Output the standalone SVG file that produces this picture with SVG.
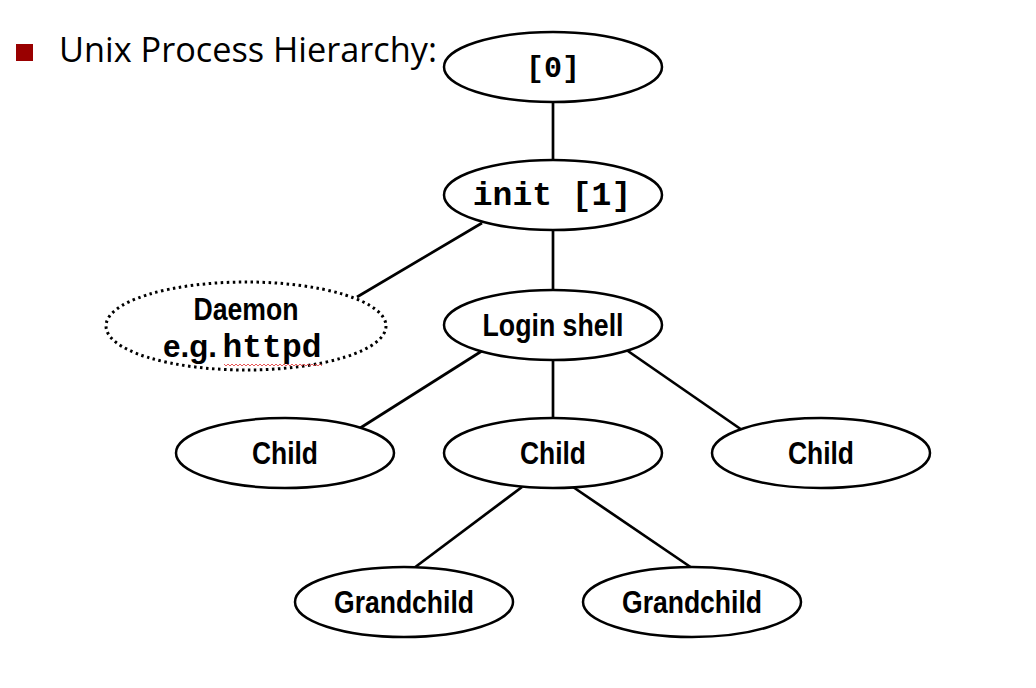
<svg xmlns="http://www.w3.org/2000/svg" width="1036" height="688" viewBox="0 0 1036 688">
<style>
.n{fill:#fff;stroke:#000;stroke-width:2.5}
.d{fill:#fff;stroke:#000;stroke-width:3;stroke-dasharray:2.5 3.5}
.l{font-family:"Liberation Sans Narrow","Arial Narrow","Liberation Sans",sans-serif;font-weight:bold;font-size:32px;text-anchor:middle;fill:#000}
.m{font-family:"Liberation Mono","Courier New",monospace;font-weight:bold;font-size:30px;text-anchor:middle;fill:#000}
.c line{stroke:#000;stroke-width:2.7}
</style>
<rect width="1036" height="688" fill="#fff"/>
<rect x="16" y="44" width="17" height="17" fill="#990000"/>
<text x="59" y="62" font-family="'Open Sans','Noto Sans',sans-serif" font-size="34" textLength="378" lengthAdjust="spacingAndGlyphs" fill="#000">Unix Process Hierarchy:</text>
<g class="c" id="connectors">
<line x1="553" y1="102" x2="553" y2="160"/>
<line x1="482" y1="223" x2="357" y2="297"/>
<line x1="553" y1="230" x2="553" y2="290"/>
<line x1="485" y1="349" x2="357" y2="430"/>
<line x1="553" y1="360" x2="553" y2="418"/>
<line x1="625" y1="349" x2="742" y2="430"/>
<line x1="522" y1="487" x2="414" y2="568"/>
<line x1="573" y1="487" x2="692" y2="568"/>
</g>
<g id="n0"><ellipse class="n" cx="553" cy="67" rx="109" ry="35"/><text class="m" x="553" y="77">[0]</text></g>
<g id="init"><ellipse class="n" cx="553" cy="195" rx="109" ry="35"/><text class="m" x="552" y="205" style="font-size:33px">init [1]</text></g>
<g id="daemon"><ellipse class="d" cx="246" cy="326" rx="140" ry="44"/>
<text class="l" x="246" y="320" textLength="105" lengthAdjust="spacingAndGlyphs">Daemon</text>
<text class="l" x="190" y="357" textLength="54" lengthAdjust="spacingAndGlyphs">e.g.</text>
<text class="m" x="272" y="357" style="font-size:33px">httpd</text>
<polyline points="224,364 226,366 228,364 230,366 232,364 234,366 236,364 238,366 240,364 242,366 244,364 246,366 248,364 250,366 252,364 254,366 256,364 258,366 260,364 262,366 264,364 266,366 268,364 270,366 272,364 274,366 276,364 278,366 280,364 282,366 284,364 286,366 288,364 290,366 292,364 294,366 296,364 298,366 300,364 302,366 304,364 306,366 308,364 310,366 312,364 314,366 316,364 318,366 320,364 322,366" fill="none" stroke="#e03030" stroke-width="0.8"/>
</g>
<g id="login"><ellipse class="n" cx="553" cy="325" rx="109" ry="35"/><text class="l" x="553" y="336" textLength="141" lengthAdjust="spacingAndGlyphs">Login shell</text></g>
<g id="child1"><ellipse class="n" cx="285" cy="453" rx="109" ry="35"/><text class="l" x="285" y="464" textLength="66" lengthAdjust="spacingAndGlyphs">Child</text></g>
<g id="child2"><ellipse class="n" cx="553" cy="453" rx="109" ry="35"/><text class="l" x="553" y="464" textLength="66" lengthAdjust="spacingAndGlyphs">Child</text></g>
<g id="child3"><ellipse class="n" cx="821" cy="453" rx="109" ry="35"/><text class="l" x="821" y="464" textLength="66" lengthAdjust="spacingAndGlyphs">Child</text></g>
<g id="gc1"><ellipse class="n" cx="404" cy="602" rx="109" ry="35"/><text class="l" x="404" y="613" textLength="140" lengthAdjust="spacingAndGlyphs">Grandchild</text></g>
<g id="gc2"><ellipse class="n" cx="692" cy="602" rx="109" ry="35"/><text class="l" x="692" y="613" textLength="140" lengthAdjust="spacingAndGlyphs">Grandchild</text></g>
</svg>
